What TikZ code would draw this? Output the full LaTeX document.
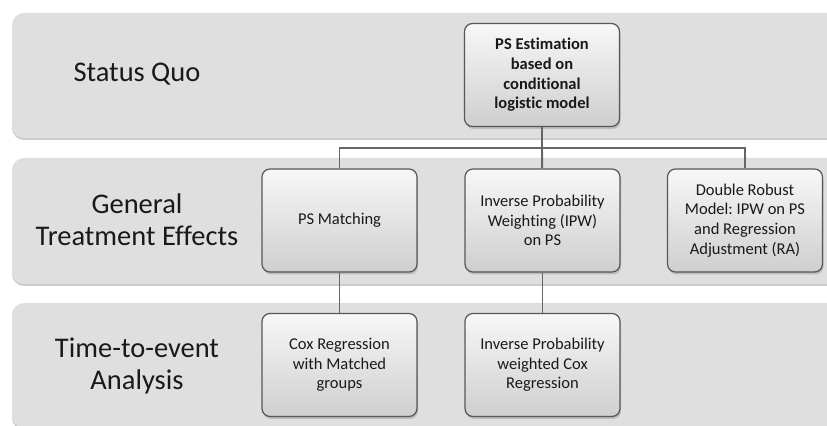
\documentclass[tikz,border=0pt]{standalone}
\usepackage{fontspec}
\setmainfont{Carlito}[Ligatures=NoCommon]
\usetikzlibrary{shadows}
\frenchspacing

\begin{document}
\begin{tikzpicture}[
        band/.style={fill=gray!25, rounded corners=0.24cm,
            drop shadow={shadow xshift=0cm, shadow yshift=-0.04cm, opacity=0.4}},
        stage/.style={font=\fontsize{16.2}{18}\selectfont, align=center, text=black!90},
        box/.style={draw=black!66, line width=0.7pt, rounded corners=0.16cm,
            top color=gray!6, bottom color=gray!38,
            minimum width=3.1cm, minimum height=2.06cm, align=center,
            font=\fontsize{9.4}{11.2}\selectfont, text=black!90,
            drop shadow={shadow xshift=0.02cm, shadow yshift=-0.05cm, opacity=0.35}},
        link/.style={draw=black!60, line width=1.1pt}
    ]
        \useasboundingbox (0,0) rectangle (16.54,8.52);
        \clip (0,0) rectangle (16.54,8.52);

        % Bands
        \path[band] (0.24,5.76) rectangle (17,8.26);
        \path[band] (0.24,2.84) rectangle (17,5.36);
        \path[band] (0.24,-0.04) rectangle (17,2.46);

        % Band labels
        \node[stage] (quo) at (2.74,7.04) {Status Quo};
        \node[stage] (general) at (2.74,4.12) {General\\Treatment Effects};
        \node[stage] (timeevent) at (2.74,1.20) {Time-to-event\\Analysis};

        % --- Boxes ---
        \node[box, font=\fontsize{9.4}{11.2}\selectfont\bfseries] (est) at (10.84,7.02)
            {PS Estimation\\based on\\conditional\\logistic model};
        \node[box] (match) at (6.79,4.11) {PS Matching};
        \node[box] (ipw) at (10.85,4.11) {Inverse Probability\\Weighting (IPW)\\on PS};
        \node[box] (robust) at (14.90,4.11) {Double Robust\\Model: IPW on PS\\and Regression\\Adjustment (RA)};
        \node[box] (cox) at (6.79,1.22) {Cox Regression\\with Matched\\groups};
        \node[box] (ipwcox) at (10.85,1.22) {Inverse Probability\\weighted Cox\\Regression};

        % Connectors
        \coordinate (bus) at (10.84,5.56);
        \draw[link] (est) -- (bus);
        \draw[link] (bus) -| (match);
        \draw[link] (bus) -- (ipw);
        \draw[link] (bus) -| (robust);
        \draw[link] (match) -- (cox);
        \draw[link] (ipw) -- (ipwcox);
    \end{tikzpicture}
\end{document}
